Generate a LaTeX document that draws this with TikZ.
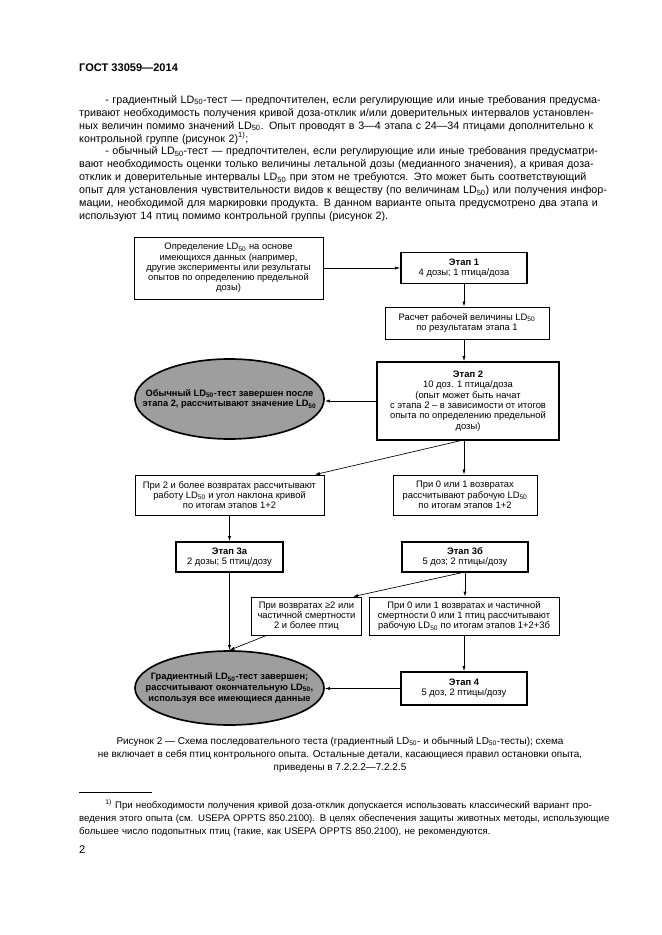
\documentclass[tikz,border=0pt]{standalone}
\usepackage{fontspec}
\setmainfont{Liberation Sans}
\usetikzlibrary{arrows.meta,shapes.geometric,calc}
\newcommand\jline[1]{\noindent\makebox[\linewidth][s]{#1}\par}
\newcommand\pline[1]{\noindent #1\par}
\newcommand\sub[1]{\textsubscript{#1}}
\begin{document}
\begin{tikzpicture}[x=0.3177mm,y=-0.3177mm,
  box/.style 2 args={draw,line width=0.7pt,minimum width=#1*0.3177mm,minimum height=#2*0.3177mm,
     inner sep=0pt,align=center,font=\fontsize{8.5}{9.3}\selectfont},
  tbox/.style 2 args={box={#1}{#2},line width=1.5pt},
  ellbox/.style 2 args={ellipse,draw,line width=1.5pt,fill=black!38,minimum width=#1*0.3177mm,
     minimum height=#2*0.3177mm,inner sep=0pt},
  ltxt/.style={align=center,font=\fontsize{8.4}{9.6}\selectfont\bfseries,inner sep=0pt},
  arr/.style={-{Latex[length=4.5pt,width=2.8pt]},line width=0.6pt},
  para/.style={anchor=north west,inner sep=0pt,text width=168.4mm,align=left,
     font=\fontsize{9.7}{11.7}\selectfont}]
\useasboundingbox (0,0) rectangle (661,935);
\fill[white] (0,0) rectangle (661,935);

% header and text
\node[anchor=west,inner sep=0pt,font=\fontsize{10}{12}\selectfont\bfseries] (hdr) at (79,68) {ГОСТ 33059—2014};
\node[para] (p1) at (79,95) {%
\jline{\hspace*{8.3mm}- градиентный LD\sub{50}-тест — предпочтителен, если регулирующие или иные требования предусма-}
\jline{тривают необходимость получения кривой доза-отклик и/или доверительных интервалов установлен-}
\jline{ных величин помимо значений LD\sub{50}. Опыт проводят в 3—4 этапа с 24—34 птицами дополнительно к}
\pline{контрольной группе (рисунок 2)\textsuperscript{1)};}
\jline{\hspace*{8.3mm}- обычный LD\sub{50}-тест — предпочтителен, если регулирующие или иные требования предусматри-}
\jline{вают необходимость оценки только величины летальной дозы (медианного значения), а кривая доза-}
\jline{отклик и доверительные интервалы LD\sub{50} при этом не требуются. Это может быть соответствующий}
\jline{опыт для установления чувствительности видов к веществу (по величинам LD\sub{50}) или получения инфор-}
\jline{мации, необходимой для маркировки продукта. В данном варианте опыта предусмотрено два этапа и}
\pline{используют 14 птиц помимо контрольной группы (рисунок 2).}};

% diagram nodes
\node[box={189}{62}] (def) at (228.5,268) {Определение LD\sub{50} на основе\\имеющихся данных (например,\\другие эксперименты или результаты\\опытов по определению предельной\\дозы)};
\node[tbox={126}{31}] (s1) at (464,268) {\textbf{Этап 1}\\4 дозы; 1 птица/доза};
\node[box={164}{32}] (calc) at (467,323) {Расчет рабочей величины LD\sub{50}\\по результатам этапа 1};
\node[tbox={182}{78}] (s2) at (468,401) {\textbf{Этап 2}\\10 доз. 1 птица/доза\\(опыт может быть начат\\с этапа 2 – в зависимости от итогов\\опыта по определению предельной\\дозы)};
\node[ellbox={189}{80},label={[ltxt]center:{Обычный LD\sub{50}-тест завершен после\\этапа 2, рассчитывают значение LD\sub{50}}}] (ell1) at (229.5,399) {};
\node[box={189}{40}] (L) at (229.5,495) {При 2 и более возвратах рассчитывают\\работу LD\sub{50} и угол наклона кривой\\по итогам этапов 1+2};
\node[box={144}{40}] (R) at (465,495) {При 0 или 1 возвратах\\рассчитывают рабочую LD\sub{50}\\по итогам этапов 1+2};
\node[tbox={107}{30}] (s3a) at (229.5,557) {\textbf{Этап 3а}\\2 дозы; 5 птиц/дозу};
\node[tbox={126}{30}] (s3b) at (465,557) {\textbf{Этап 3б}\\5 доз; 2 птицы/дозу};
\node[box={110}{38}] (ge2) at (306.5,616) {При возвратах ≥2 или\\частичной смертности\\2 и более птиц};
\node[box={190}{38}] (R2) at (464,616) {При 0 или 1 возвратах и частичной\\смертности 0 или 1 птиц рассчитывают\\рабочую LD\sub{50} по итогам этапов 1+2+3б};
\node[tbox={126}{33}] (s4) at (464,688.5) {\textbf{Этап 4}\\5 доз, 2 птицы/дозу};
\node[ellbox={189}{74},label={[ltxt]center:{Градиентный LD\sub{50}-тест завершен;\\рассчитывают окончательную LD\sub{50},\\используя все имеющиеся данные}}] (ell2) at (229.5,688) {};

% connectors
\draw[arr] (def.east) -- (s1.west);
\draw[arr] (s1.south) -- (s1.south |- calc.north);
\draw[arr] (s1.south |- calc.south) -- (s1.south |- s2.north);
\draw[arr] (s2.west) -- (s2.west -| ell1.east);
\draw[arr] ($(s2.south west)!0.456!(s2.south east)$) -- ($(L.north west)!0.95!(L.north east)$);
\draw[arr] (s1.south |- s2.south) -- (s1.south |- R.north);
\draw[arr] (L.south) -- (s3a.north);
\draw[arr] (s3a.south) -- (ell2.north);
\draw[arr] ($(s3b.south west)!0.47!(s3b.south east)$) -- ($(ge2.north west)!0.92!(ge2.north east)$);
\draw[arr] (s3b.south) -- (s3b.south |- R2.north);
\draw[arr] ($(ge2.south west)!0.14!(ge2.south east)$) -- (ell2.north);
\draw[arr] (R2.south) -- (R2.south |- s4.north);
\draw[arr] (s4.west) -- (s4.west -| ell2.east);

% caption
\node[align=center,inner sep=0pt,font=\fontsize{9}{11.7}\selectfont] (cap) at (340,755) {Рисунок 2 — Схема последовательного теста (градиентный LD\sub{50}- и обычный LD\sub{50}-тесты); схема\\не включает в себя птиц контрольного опыта. Остальные детали, касающиеся правил остановки опыта,\\приведены в 7.2.2.2—7.2.2.5};

% footnote
\draw[line width=0.5pt] (79,792) coordinate (fa) -- (152,792) coordinate (fb);
\node[para,font=\fontsize{8.7}{11.7}\selectfont] (fn) at (79,799) {%
\jline{\hspace*{8.3mm}\textsuperscript{1)} При необходимости получения кривой доза-отклик допускается использовать классический вариант про-}
\jline{ведения этого опыта (см. USEPA OPPTS 850.2100). В целях обеспечения защиты животных методы, использующие}
\pline{большее число подопытных птиц (такие, как USEPA OPPTS 850.2100), не рекомендуются.}};
\node[anchor=west,inner sep=0pt,font=\fontsize{10}{12}\selectfont] (pg) at (79,850) {2};
\end{tikzpicture}
\end{document}
